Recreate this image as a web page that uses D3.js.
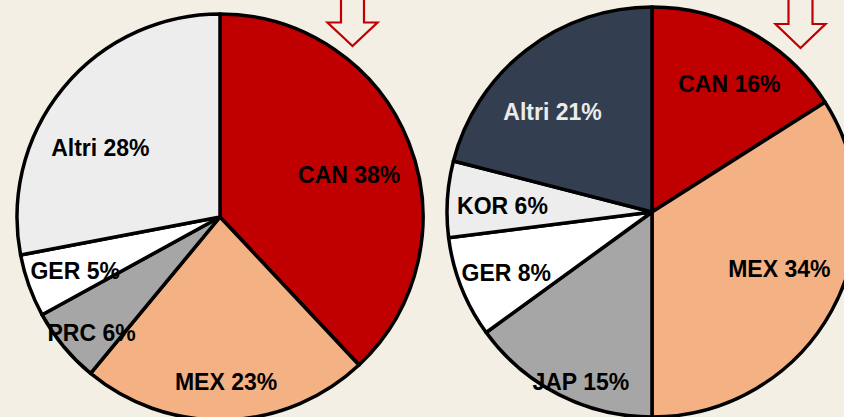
<!DOCTYPE html>
<html>
<head>
<meta charset="utf-8">
<script src="https://cdn.jsdelivr.net/npm/d3@7"></script>
<style>
  html, body { margin: 0; padding: 0; background: #f3efe4; }
  svg { display: block; }
  .lbl { font-family: "Liberation Sans", Arial, sans-serif; font-weight: bold; font-size: 23px; }
</style>
</head>
<body>
<svg id="chart" width="844" height="417"></svg>
<script>
// left pie - share by country
const leftCats = ["CAN", "MEX", "PRC", "GER", "Altri"];
const leftVals = [38, 23, 6, 5, 28];
const leftColors = ["#c00000", "#f4b183", "#a6a6a6", "#ffffff", "#ededed"];

// right pie - share by country
const rightCats = ["CAN", "MEX", "JAP", "GER", "KOR", "Altri"];
const rightVals = [16, 34, 15, 8, 6, 21];
const rightColors = ["#c00000", "#f4b183", "#a6a6a6", "#ffffff", "#ededed", "#333f50"];

// label placement (radius fraction, angle shift in degrees)
const leftLabelR = [0.67, 0.81, 0.85, 0.76, 0.68];
const leftLabelShift = [3.4, -0.3, -2.3, -0.4, -9.7];
const rightLabelR = [0.73, 0.68, 0.90, 0.77, 0.73, 0.69];
const rightLabelShift = [2.3, -4.8, -4.3, -1, -1.3, -6.9];

const svg = d3.select("#chart");

function drawPie(cx, cy, r, cats, vals, colors, labR, labShift) {
  const data = cats.map(function(c, i) { return { cat: c, val: vals[i], i: i }; });

  const pie = d3.pie()
    .sort(null)
    .value(function(d) { return d.val; });

  const arc = d3.arc().innerRadius(0).outerRadius(r);

  const g = svg.append("g").attr("transform", "translate(" + cx + "," + cy + ")");
  const arcs = pie(data);

  g.selectAll("path")
    .data(arcs)
    .enter()
    .append("path")
    .attr("d", arc)
    .attr("fill", function(d) { return colors[d.data.i]; })
    .attr("stroke", "#000")
    .attr("stroke-width", 3.5)
    .attr("stroke-linejoin", "round");

  // labels
  g.selectAll("text")
    .data(arcs)
    .enter()
    .append("text")
    .attr("class", "lbl")
    .attr("text-anchor", "middle")
    .attr("dy", "0.36em")
    .attr("x", function(d) {
      const a = (d.startAngle + d.endAngle) / 2 + labShift[d.data.i] * Math.PI / 180;
      return Math.sin(a) * r * labR[d.data.i];
    })
    .attr("y", function(d) {
      const a = (d.startAngle + d.endAngle) / 2 + labShift[d.data.i] * Math.PI / 180;
      return -Math.cos(a) * r * labR[d.data.i];
    })
    .attr("fill", function(d) { return d.data.cat == "Altri" && colors[d.data.i] == "#333f50" ? "#ececec" : "#000"; })
    .text(function(d) { return d.data.cat + " " + d.data.val + "%"; });
}

drawPie(220, 217, 203, leftCats, leftVals, leftColors, leftLabelR, leftLabelShift);
drawPie(652, 212, 205, rightCats, rightVals, rightColors, rightLabelR, rightLabelShift);

// hollow down arrows at the top
function downArrow(x, top, shaftW, headW, headY, tipY) {
  const p = d3.path();
  p.moveTo(x - shaftW / 2, top);
  p.lineTo(x - shaftW / 2, headY);
  p.lineTo(x - headW / 2, headY);
  p.lineTo(x, tipY);
  p.lineTo(x + headW / 2, headY);
  p.lineTo(x + shaftW / 2, headY);
  p.lineTo(x + shaftW / 2, top);
  svg.append("path")
    .attr("d", p.toString())
    .attr("fill", "#f3efe4")
    .attr("stroke", "#c00000")
    .attr("stroke-width", 2.2);
}
downArrow(352.5, -2, 23, 50, 22.5, 46);
downArrow(800.5, -2, 24, 50, 24, 48);
</script>
</body>
</html>
